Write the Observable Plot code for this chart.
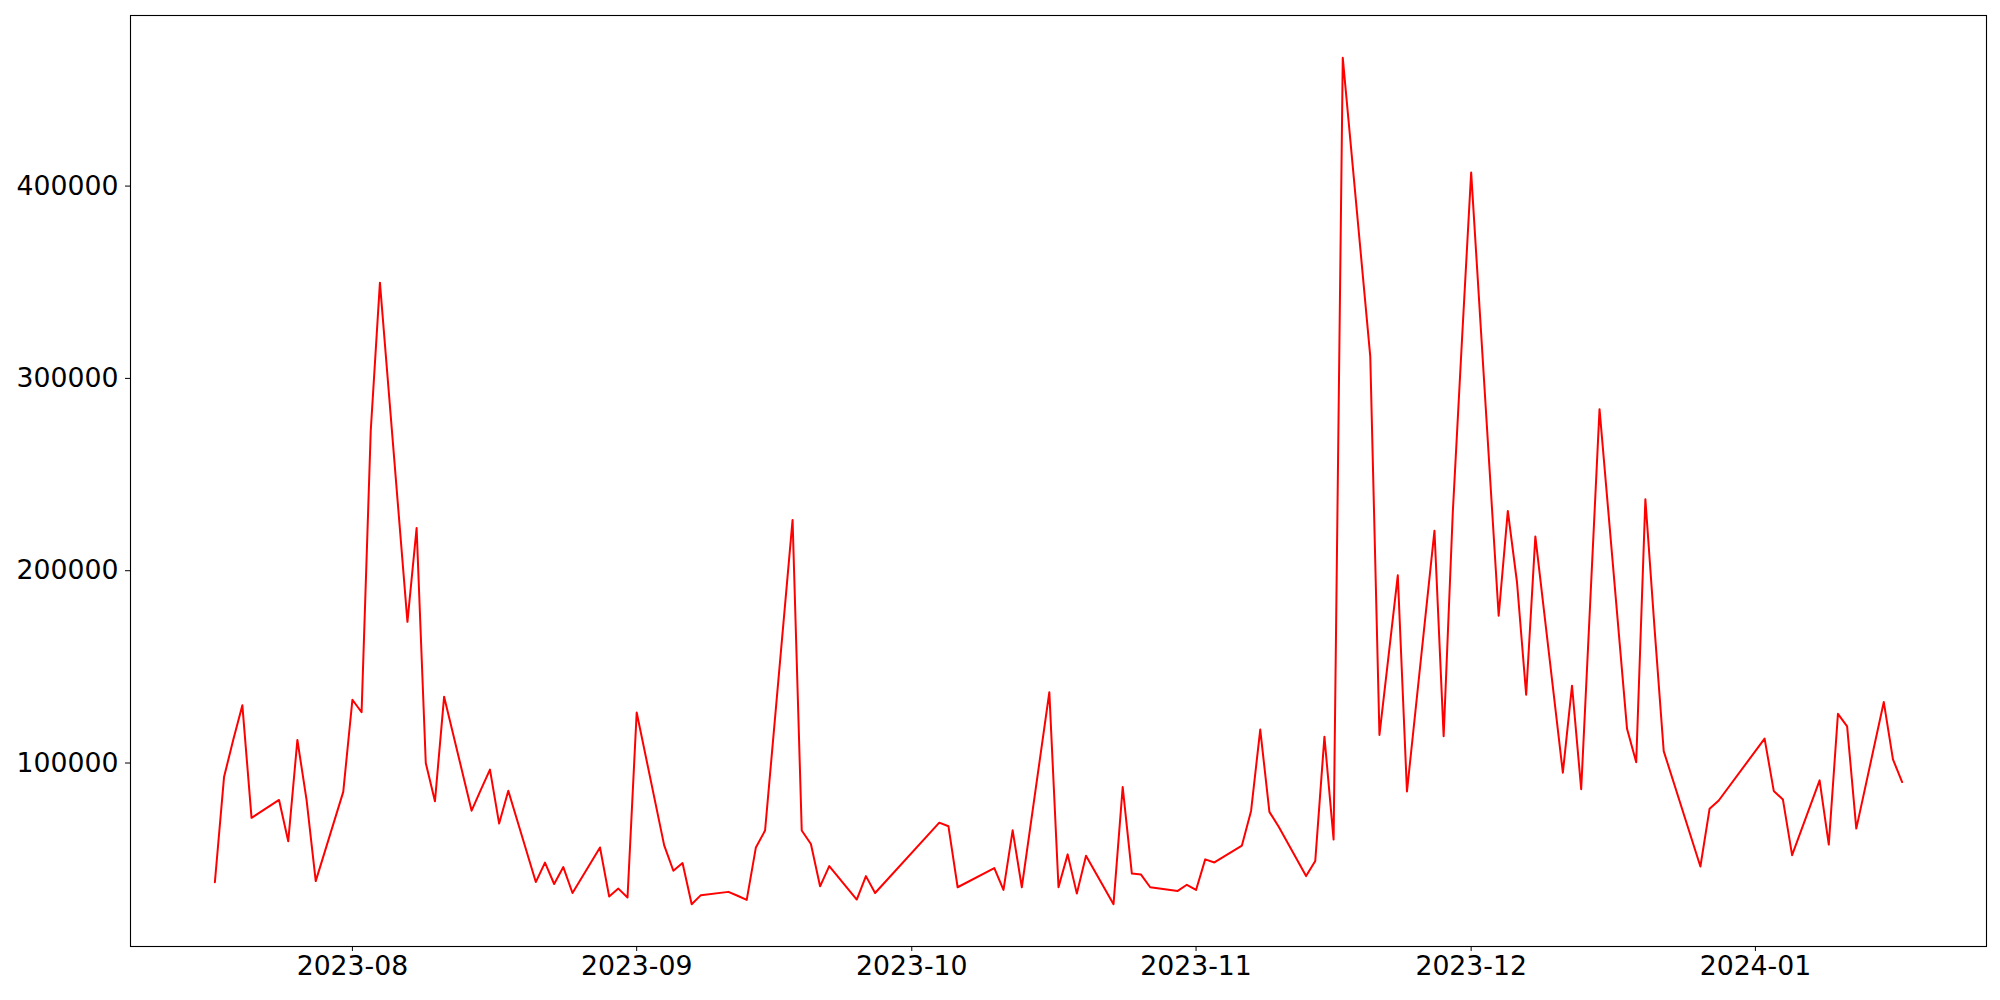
<!DOCTYPE html>
<html><head><meta charset="utf-8">
<script src="https://cdn.jsdelivr.net/npm/d3@7"></script>
<script src="https://cdn.jsdelivr.net/npm/@observablehq/plot@0.6"></script>
<style>html,body{margin:0;padding:0;background:#fff} svg{display:block}</style>
</head><body><div id="chart"></div>
<script>
const dates = [
"2023-07-17","2023-07-18","2023-07-19","2023-07-20","2023-07-21",
"2023-07-24","2023-07-25","2023-07-26","2023-07-27","2023-07-28",
"2023-07-31","2023-08-01","2023-08-02","2023-08-03","2023-08-04",
"2023-08-07","2023-08-08","2023-08-09","2023-08-10","2023-08-11",
"2023-08-14","2023-08-15","2023-08-16","2023-08-17","2023-08-18",
"2023-08-21","2023-08-22","2023-08-23","2023-08-24","2023-08-25",
"2023-08-28","2023-08-29","2023-08-30","2023-08-31","2023-09-01",
"2023-09-04","2023-09-05","2023-09-06","2023-09-07","2023-09-08",
"2023-09-11","2023-09-12","2023-09-13","2023-09-14","2023-09-15",
"2023-09-18","2023-09-19","2023-09-20","2023-09-21","2023-09-22",
"2023-09-25","2023-09-26","2023-09-27",
"2023-10-04","2023-10-05","2023-10-06",
"2023-10-10","2023-10-11","2023-10-12","2023-10-13",
"2023-10-16","2023-10-17","2023-10-18","2023-10-19","2023-10-20",
"2023-10-23","2023-10-24","2023-10-25","2023-10-26","2023-10-27",
"2023-10-30","2023-10-31","2023-11-01","2023-11-02","2023-11-03",
"2023-11-06","2023-11-07","2023-11-08","2023-11-09","2023-11-10",
"2023-11-13","2023-11-14","2023-11-15","2023-11-16","2023-11-17",
"2023-11-20","2023-11-21","2023-11-22","2023-11-23","2023-11-24",
"2023-11-27","2023-11-28","2023-11-29","2023-11-30","2023-12-01",
"2023-12-04","2023-12-05","2023-12-06","2023-12-07","2023-12-08",
"2023-12-11","2023-12-12","2023-12-13","2023-12-14","2023-12-15",
"2023-12-18","2023-12-19","2023-12-20","2023-12-21","2023-12-22",
"2023-12-26","2023-12-27","2023-12-28",
"2024-01-02","2024-01-03","2024-01-04","2024-01-05",
"2024-01-08","2024-01-09","2024-01-10","2024-01-11","2024-01-12",
"2024-01-15","2024-01-16","2024-01-17"
];
const values = [
38000, 92700, 112000, 130000, 71500,
80800, 59300, 112000, 80800, 38600,
85000, 132900, 126400, 272900, 349800,
173400, 222200, 100000, 80100, 134500,
75200, 86000, 96600, 68500, 85600,
38100, 48200, 37100, 45900, 32400,
56100, 30600, 34700, 30100, 126300,
57200, 44000, 48000, 26600, 31300,
33000, 31000, 28800, 56100, 64900,
226400, 64900, 57900, 35900, 46400,
29000, 41200, 32400,
69000, 67100, 35400,
45400, 34000, 65000, 35400,
136800, 35400, 52500, 32100, 51800,
26600, 87500, 42500, 42000, 35400,
33500, 36700, 34000, 49900, 48300,
57100, 75100, 117400, 74600, 67000,
41200, 49100, 113700, 60200, 466700,
311300, 114600, 156000, 197600, 85200,
220800, 113900, 230500, 320000, 407100,
176600, 231100, 194000, 135500, 217800,
95000, 140200, 86400, 185000, 284000,
117800, 100400, 237200, 170000, 106200,
46200, 76200, 80500,
112700, 85500, 81000, 52100,
91000, 57600, 125600, 119100, 65900,
131700, 101900, 90100
];
const yTicks = [100000, 200000, 300000, 400000];
const xTicks = ["2023-08-01","2023-09-01","2023-10-01","2023-11-01","2023-12-01","2024-01-01"];

const data = dates.map((d, i) => ({date: new Date(d + "T00:00:00Z"), value: values[i]}));
const xExt = d3.extent(data, d => d.date);
const xPad = (xExt[1] - xExt[0]) * 0.05;
const yExt = d3.extent(values);
const yPad = (yExt[1] - yExt[0]) * 0.05;

const chart = Plot.plot({
  width: 2000,
  height: 1000,
  marginLeft: 130,
  marginRight: 14,
  marginTop: 15,
  marginBottom: 54,
  style: {fontFamily: "'DejaVu Sans'", fontSize: "26.7px", color: "black", background: "white", overflow: "visible"},
  x: {
    type: "utc",
    domain: [new Date(+xExt[0] - xPad), new Date(+xExt[1] + xPad)],
    ticks: xTicks.map(d => new Date(d + "T00:00:00Z")),
    tickFormat: d3.utcFormat("%Y-%m"),
    tickSize: 5,
    tickPadding: 5,
    label: null
  },
  y: {
    domain: [yExt[0] - yPad, yExt[1] + yPad],
    ticks: yTicks,
    tickFormat: d => String(d),
    tickSize: 5,
    tickPadding: 7,
    label: null
  },
  marks: [
    Plot.lineY(data, {x: "date", y: "value", stroke: "red", strokeWidth: 2}),
    Plot.frame({stroke: "black", strokeWidth: 1.1})
  ]
});
document.getElementById("chart").appendChild(chart);
</script>
</body></html>
